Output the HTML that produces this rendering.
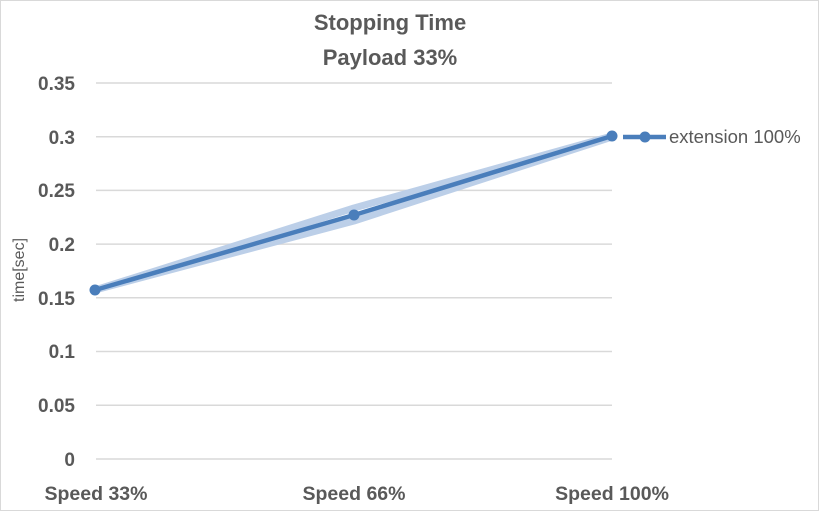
<!DOCTYPE html>
<html><head><style>
body{margin:0;background:#fff}
svg{display:block}
text{font-family:"Liberation Sans",sans-serif}
</style></head><body>
<svg width="819" height="511" viewBox="0 0 819 511">
<rect x="0.5" y="0.5" width="818" height="510" fill="#fff" stroke="#d9d9d9"/>
<text x="390" y="30" text-anchor="middle" font-size="22" font-weight="bold" fill="#595959">Stopping Time</text>
<text x="390" y="65" text-anchor="middle" font-size="22" font-weight="bold" fill="#595959">Payload 33%</text>
<g stroke="#d9d9d9" stroke-width="1.5">
<line x1="96" x2="612" y1="83" y2="83"/><line x1="96" x2="612" y1="136.7" y2="136.7"/>
<line x1="96" x2="612" y1="190.4" y2="190.4"/><line x1="96" x2="612" y1="244.1" y2="244.1"/>
<line x1="96" x2="612" y1="297.8" y2="297.8"/><line x1="96" x2="612" y1="351.5" y2="351.5"/>
<line x1="96" x2="612" y1="405.2" y2="405.2"/><line x1="96" x2="612" y1="459" y2="459"/>
</g>
<g font-size="19" font-weight="bold" fill="#595959" text-anchor="end">
<text x="75" y="90">0.35</text><text x="75" y="144">0.3</text><text x="75" y="197">0.25</text>
<text x="75" y="251">0.2</text><text x="75" y="305">0.15</text><text x="75" y="358">0.1</text>
<text x="75" y="412">0.05</text><text x="75" y="466">0</text>
</g>
<g font-size="19.5" font-weight="bold" fill="#595959" text-anchor="middle">
<text x="96" y="500">Speed 33%</text><text x="354" y="500">Speed 66%</text><text x="612" y="500">Speed 100%</text>
</g>
<text transform="translate(24,270) rotate(-90)" text-anchor="middle" font-size="16" fill="#595959">time[sec]</text>
<g fill="none" stroke="#bccfe8" stroke-width="7" stroke-linejoin="round">
<polyline points="95,290 354,208 612,136"/>
<polyline points="95,290 354,221 612,137"/>
</g>
<polyline points="95,290 354,215 612,136" fill="none" stroke="#4a7ebb" stroke-width="4.5" stroke-linejoin="round"/>
<g fill="#4a7ebb">
<circle cx="95" cy="290" r="5.5"/><circle cx="354" cy="215" r="5.5"/><circle cx="612" cy="136" r="5.5"/>
<line x1="623" x2="666" y1="137" y2="137" stroke="#4a7ebb" stroke-width="4.5"/>
<circle cx="645" cy="137" r="5.5"/>
</g>
<text x="669" y="143" font-size="18.5" fill="#595959">extension 100%</text>
</svg>
</body></html>
